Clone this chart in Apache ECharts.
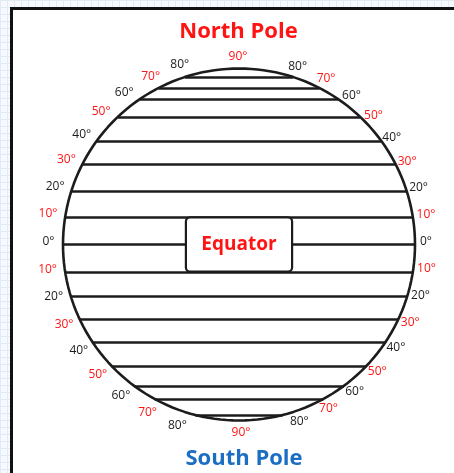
<!DOCTYPE html>
<html><head><meta charset="utf-8">
<script src="https://cdn.jsdelivr.net/npm/echarts@6/dist/echarts.min.js"></script>
<style>
html,body{margin:0;padding:0;width:454px;height:473px;overflow:hidden;
background-color:#f6f9fd;
background-image:linear-gradient(#e1ebf5 1px, transparent 1px),linear-gradient(90deg,#e1ebf5 1px, transparent 1px);
background-size:7px 7px;}
#chart{width:454px;height:473px;}
</style></head><body><div id="chart"></div>
<script>
// ---- data ----
const latitudes = [0, 10, 20, 30, 40, 50, 60, 70, 80];
const northLineOffsets = [0, 27.5, 53.5, 80.5, 103.5, 127.5, 145.5, 156.5, 167.5];
const southLineOffsets = [0, 27.5, 51.5, 74.5, 97.5, 121.5, 141.5, 154.5, 170.5];
const poleLatitude = 90;
const northTitle = 'North Pole';
const southTitle = 'South Pole';
const equatorTitle = 'Equator';

// ---- layout ----
const W = 454, H = 473, CX = 239, CY = 244.5, R = 176;
const RED = '#ff1414', INK = '#1c1c1c', BLUE = '#1b6ec2';
const FONT = '"Open Sans", "DejaVu Sans", sans-serif';

function halfWidth(y) { return Math.sqrt(Math.max(0, R * R - y * y)); }

// latitude lines
const lineData = [];
latitudes.forEach((lat, i) => {
  const yn = northLineOffsets[i];
  lineData.push({ coords: [[-halfWidth(yn), yn], [halfWidth(yn), yn]] });
  if (lat !== 0) {
    const ys = -southLineOffsets[i];
    lineData.push({ coords: [[-halfWidth(ys), ys], [halfWidth(ys), ys]] });
  }
});

// outline circle
const circleData = [];
for (let a = 0; a <= 360; a += 2) {
  const t = a * Math.PI / 180;
  circleData.push([R * Math.cos(t), R * Math.sin(t)]);
}

// degree labels around the rim (placement rule)
function labelAngle(lat) { return lat * (0.81 + 0.001 * lat); }
function leftRadius(lat, north) { return north ? 195 - 0.1 * lat : 194.5; }
function rightRadius(lat, north) { return north ? Math.max(185.3, 191.5 - 0.15 * lat) : 190.5; }
const LIFT = 3, HALF_TEXT = 10.5;
const labelData = [];
function colorFor(lat) { return (lat / 10) % 2 === 1 ? RED : INK; }
function addLabel(x, y, lat, align) {
  labelData.push({ value: [x, y], name: lat + '°', label: { color: colorFor(lat), align: align } });
}
latitudes.forEach((lat) => {
  const t = labelAngle(lat) * Math.PI / 180;
  const hemis = lat === 0 ? [1] : [1, -1];
  hemis.forEach((s) => {
    const north = s > 0;
    const rl = leftRadius(lat, north), rr = rightRadius(lat, north);
    addLabel(-rl * Math.cos(t) + HALF_TEXT, s * rl * Math.sin(t) + LIFT, lat, 'right');
    addLabel(rr * Math.cos(t) - HALF_TEXT, s * rr * Math.sin(t) + LIFT, lat, 'left');
  });
});
addLabel(-1, 187.5, poleLatitude, 'center');
addLabel(2, -188.5, poleLatitude, 'center');

const chart = echarts.init(document.getElementById('chart'), null, { renderer: 'canvas' });
chart.setOption({
  animation: false,
  backgroundColor: 'transparent',
  grid: { left: 0, right: 0, top: 0, bottom: 0 },
  xAxis: { type: 'value', min: -CX, max: W - CX, show: false },
  yAxis: { type: 'value', min: -(H - CY), max: CY, show: false },
  graphic: [
    { type: 'rect', z: -10, shape: { x: 11.5, y: 8.5, width: 470, height: 480 },
      style: { fill: '#ffffff', stroke: '#111111', lineWidth: 3 } },
    { type: 'text', z: 100, x: 238.5, y: 32,
      style: { text: northTitle, fill: RED, font: 'bold 22px ' + FONT, textAlign: 'center', textVerticalAlign: 'middle' } },
    { type: 'text', z: 100, x: 244, y: 459,
      style: { text: southTitle, fill: BLUE, font: 'bold 22px ' + FONT, textAlign: 'center', textVerticalAlign: 'middle' } }
  ],
  series: [
    {
      type: 'lines', coordinateSystem: 'cartesian2d', silent: true, z: 2,
      lineStyle: { color: INK, width: 2.6, opacity: 1 },
      data: lineData
    },
    {
      type: 'line', data: circleData, showSymbol: false, silent: true, z: 3,
      lineStyle: { color: INK, width: 2.6 }
    },
    {
      type: 'scatter', z: 5, silent: true, symbolSize: 1,
      itemStyle: { color: 'rgba(0,0,0,0)', opacity: 1 },
      data: [{ value: [0, 0], name: equatorTitle }],
      label: {
        show: true, position: 'inside', formatter: '{b}', opacity: 1,
        color: RED, fontFamily: FONT, fontWeight: 'bold', fontSize: 19,
        backgroundColor: '#ffffff', borderColor: INK, borderWidth: 2.2, borderRadius: 3,
        width: 84, height: 22, lineHeight: 22, align: 'center', verticalAlign: 'middle',
        padding: [15, 10]
      }
    },
    {
      type: 'scatter', z: 6, silent: true, symbolSize: 1,
      itemStyle: { color: 'rgba(0,0,0,0)', opacity: 1 },
      data: labelData,
      label: {
        show: true, position: 'inside', formatter: '{b}', opacity: 1,
        fontFamily: FONT, fontSize: 12, verticalAlign: 'middle'
      }
    }
  ]
});
</script>
</body></html>
